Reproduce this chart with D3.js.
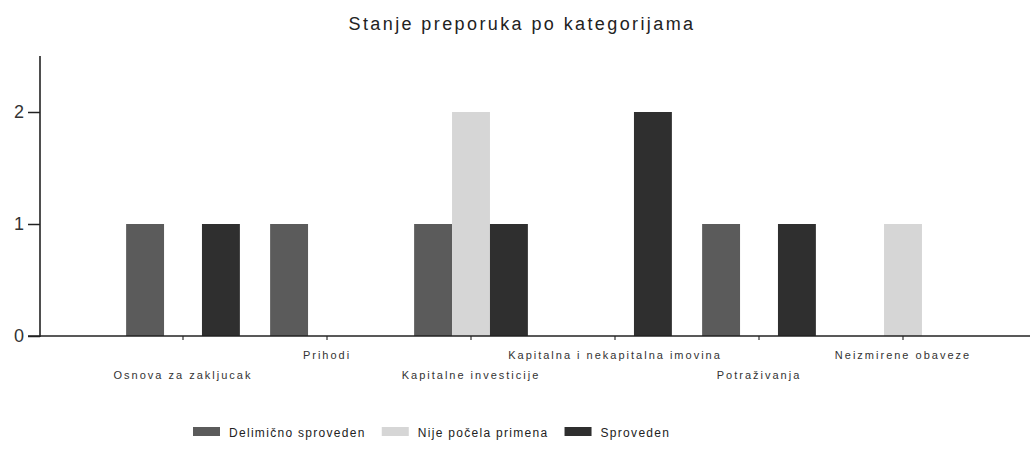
<!DOCTYPE html>
<html>
<head>
<meta charset="utf-8">
<script src="https://cdn.jsdelivr.net/npm/d3@7/dist/d3.min.js"></script>
<style>
  html, body { margin: 0; padding: 0; background: #fff; }
  svg { display: block; font-family: "Liberation Sans", Arial, sans-serif; }
</style>
</head>
<body>
<svg id="chart" width="1036" height="450"></svg>
<script>
const title = "Stanje preporuka po kategorijama";
const categories = ["Osnova za zakljucak", "Prihodi", "Kapitalne investicije", "Kapitalna i nekapitalna imovina", "Potraživanja", "Neizmirene obaveze"];
const seriesNames = ["Delimično sproveden", "Nije počela primena", "Sproveden"];
const delimicnoSproveden = [1, 1, 1, 0, 1, 0];
const nijePocelaPrimena = [0, 0, 2, 0, 0, 1];
const sproveden = [1, 0, 1, 2, 1, 0];
const yTicks = [0, 1, 2];
const yMax = 2.5;

const seriesValues = [delimicnoSproveden, nijePocelaPrimena, sproveden];
const colors = ["#5b5b5b", "#d6d6d6", "#2f2f2f"];

const svg = d3.select("#chart");
const plot = { left: 40, right: 1030, top: 56, bottom: 336 };

const x0 = d3.scaleBand().domain(categories).range([111, 975]).paddingInner(0.21).paddingOuter(0.105);
const x1 = d3.scaleBand().domain(seriesNames).range([0, x0.bandwidth()]);
const y = d3.scaleLinear().domain([0, yMax]).range([plot.bottom, plot.top]);

// Title
svg.append("text")
  .attr("x", 522).attr("y", 30)
  .attr("text-anchor", "middle")
  .attr("font-size", 18)
  .attr("letter-spacing", 2.4)
  .attr("fill", "#222")
  .text(title);

// Bars
const rows = [];
categories.forEach((c, i) => {
  seriesNames.forEach((s, j) => {
    rows.push({ cat: c, series: s, value: seriesValues[j][i], color: colors[j] });
  });
});
svg.append("g").selectAll("rect")
  .data(rows.filter(d => d.value > 0))
  .join("rect")
  .attr("x", d => x0(d.cat) + x1(d.series))
  .attr("y", d => y(d.value))
  .attr("width", x1.bandwidth())
  .attr("height", d => y(0) - y(d.value))
  .attr("fill", d => d.color);

// Y axis
const yAxis = svg.append("g")
  .attr("transform", `translate(${plot.left},0)`)
  .call(d3.axisLeft(y).tickValues(yTicks).tickFormat(d3.format("d")).tickSize(12).tickPadding(4));
yAxis.select(".domain").remove();
yAxis.selectAll(".tick line").attr("stroke", "#222").attr("stroke-width", 1.5);
yAxis.selectAll(".tick text").attr("font-size", 18).attr("fill", "#333")
  .attr("font-family", "\"Liberation Sans\", Arial, sans-serif");
svg.append("line")
  .attr("x1", plot.left).attr("x2", plot.left)
  .attr("y1", plot.top).attr("y2", plot.bottom + 1)
  .attr("stroke", "#222").attr("stroke-width", 1.6);

// X axis
const xAxis = svg.append("g")
  .attr("transform", `translate(0,${plot.bottom})`)
  .call(d3.axisBottom(x0).tickSize(4).tickSizeOuter(0));
xAxis.select(".domain").remove();
xAxis.selectAll(".tick line").attr("stroke", "#333").attr("stroke-width", 1.2);
xAxis.selectAll(".tick text")
  .attr("font-size", 11)
  .attr("letter-spacing", 2)
  .attr("fill", "#333")
  .attr("font-family", "\"Liberation Sans\", Arial, sans-serif")
  .attr("dy", null)
  .attr("y", (d, i) => (i % 2 === 0 ? 43 : 23));
svg.append("line")
  .attr("x1", plot.left - 12).attr("x2", plot.right)
  .attr("y1", plot.bottom).attr("y2", plot.bottom)
  .attr("stroke", "#222").attr("stroke-width", 1.6);

// Legend
const legend = svg.append("g");
let lx = 193;
seriesNames.forEach((s, j) => {
  legend.append("rect")
    .attr("x", lx).attr("y", 427)
    .attr("width", 27).attr("height", 9)
    .attr("fill", colors[j]);
  const t = legend.append("text")
    .attr("x", lx + 27 + 9).attr("y", 437)
    .attr("font-size", 12)
    .attr("letter-spacing", 1.3)
    .attr("fill", "#222")
    .text(s);
  lx = lx + 27 + 9 + t.node().getComputedTextLength() + 16;
});
</script>
</body>
</html>
